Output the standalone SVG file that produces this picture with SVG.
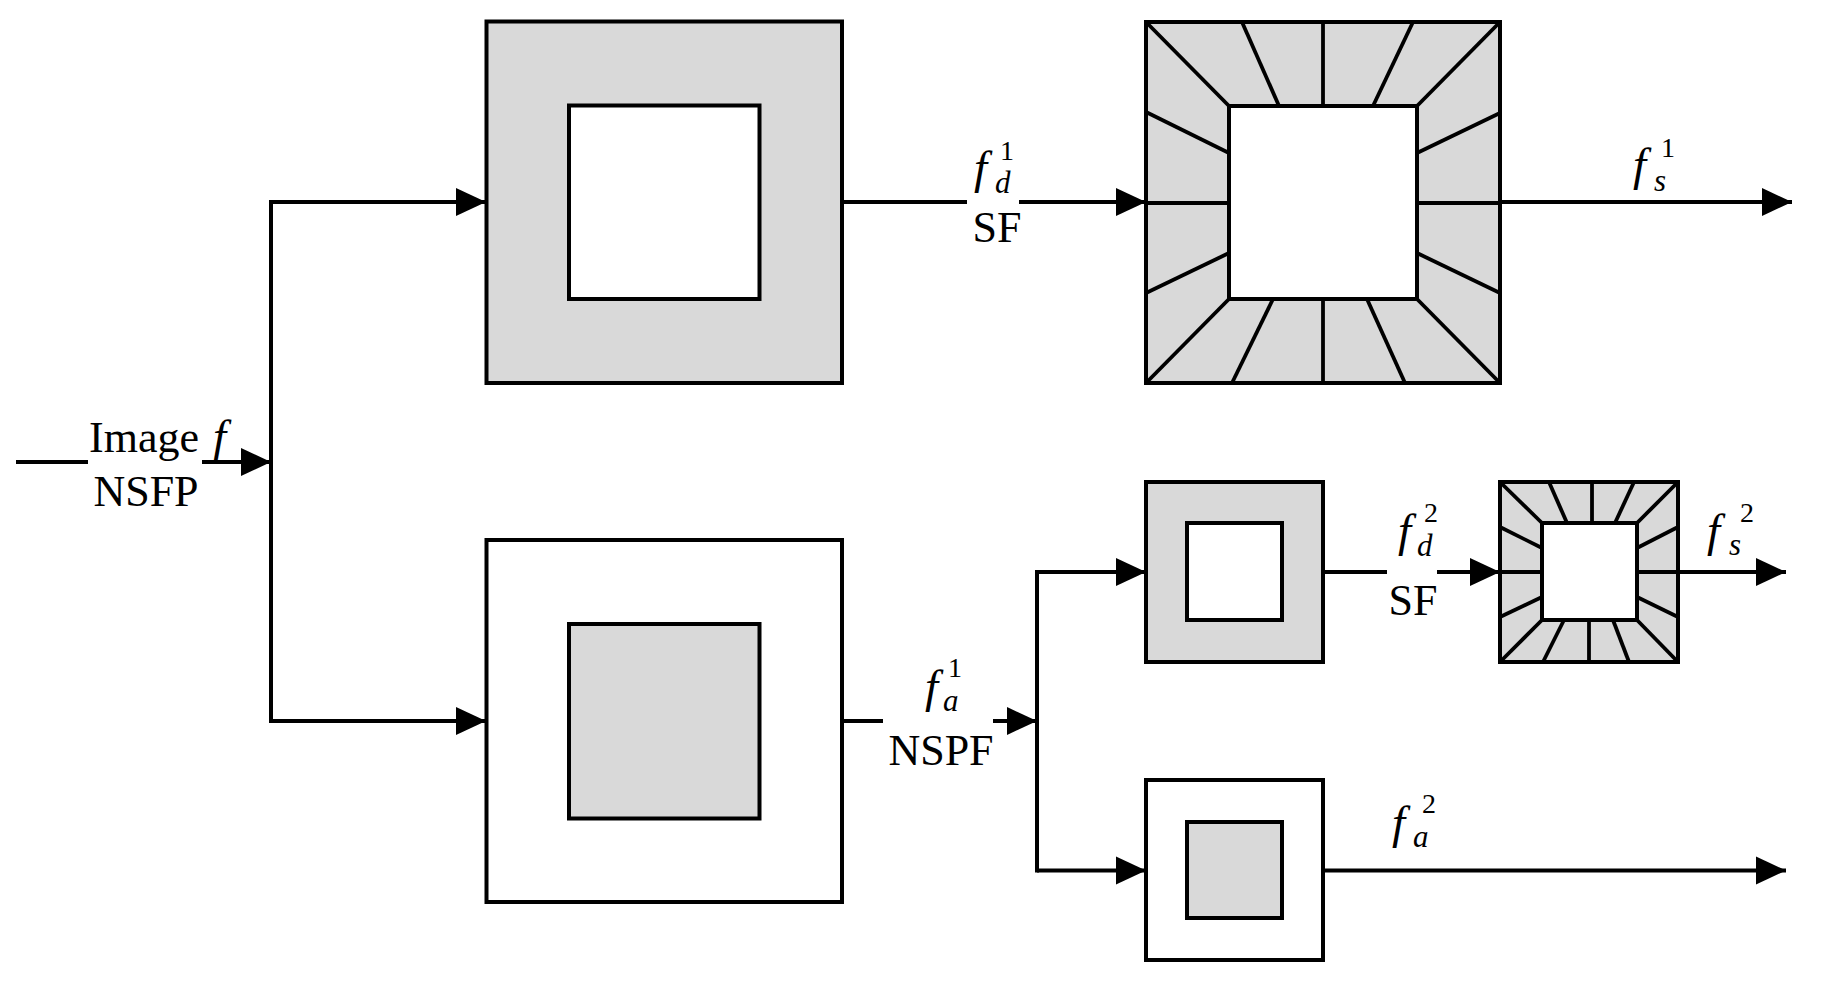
<svg xmlns="http://www.w3.org/2000/svg" width="1833" height="991" viewBox="0 0 1833 991">
  <style>
    .box { stroke: #000; stroke-width: 4; }
    .grey { fill: #d9d9d9; }
    .white { fill: #fff; }
    .ray { stroke: #000; stroke-width: 3.8; fill: none; }
    .wire { stroke: #000; stroke-width: 4; fill: none; }
    .arrow { marker-end: url(#ah); }
    .lbl { font-family: "Liberation Serif", "Times New Roman", serif; font-size: 44px; fill: #000; }
    .mf { font-family: "Liberation Serif", "Times New Roman", serif; font-style: italic; font-size: 47px; fill: #000; }
    .sub { font-family: "Liberation Serif", "Times New Roman", serif; font-style: italic; font-size: 31px; fill: #000; }
    .sup { font-family: "Liberation Serif", "Times New Roman", serif; font-size: 28px; fill: #000; }
  </style>
  <defs>
    <marker id="ah" markerUnits="userSpaceOnUse" markerWidth="31" markerHeight="30" refX="30" refY="15" orient="auto" viewBox="0 0 31 30">
      <path d="M0,1 L30,15 L0,29 z" fill="#000"/>
    </marker>
  </defs>
  <rect width="1833" height="991" fill="#fff"/>

  <g id="connectors">
    <line class="wire" x1="16" y1="462" x2="88" y2="462"/>
    <line class="wire arrow" x1="202" y1="462" x2="271" y2="462"/>
    <line class="wire" x1="271" y1="200" x2="271" y2="723"/>
    <line class="wire arrow" x1="271" y1="202" x2="486" y2="202"/>
    <line class="wire arrow" x1="271" y1="721" x2="486" y2="721"/>
    <line class="wire" x1="842" y1="202" x2="967" y2="202"/>
    <line class="wire arrow" x1="1019" y1="202" x2="1146" y2="202"/>
    <line class="wire arrow" x1="1500" y1="202" x2="1792" y2="202"/>
    <line class="wire" x1="842" y1="721" x2="883" y2="721"/>
    <line class="wire arrow" x1="993" y1="721" x2="1037" y2="721"/>
    <line class="wire" x1="1037" y1="570" x2="1037" y2="872.5"/>
    <line class="wire arrow" x1="1037" y1="572" x2="1146" y2="572"/>
    <line class="wire arrow" x1="1037" y1="870.5" x2="1146" y2="870.5"/>
    <line class="wire" x1="1323" y1="572" x2="1387" y2="572"/>
    <line class="wire arrow" x1="1437" y1="572" x2="1500" y2="572"/>
    <line class="wire arrow" x1="1678" y1="572" x2="1786" y2="572"/>
    <line class="wire arrow" x1="1323" y1="870.5" x2="1786" y2="870.5"/>
  </g>

  <g id="nsfp-highpass">
    <rect class="box grey" x="486.5" y="21.5" width="355.5" height="361.5"/>
    <rect class="box white" x="569" y="105.5" width="190.5" height="193.5"/>
  </g>

  <g id="nsfp-lowpass">
    <rect class="box white" x="486.5" y="540" width="355.5" height="362"/>
    <rect class="box grey" x="569" y="624" width="190.5" height="194.5"/>
  </g>

  <g id="sf-level1">
    <rect class="box grey" x="1146" y="22" width="354" height="361"/>
    <rect class="box white" x="1229" y="106" width="188" height="193"/>
    <line class="ray" x1="1146" y1="22" x2="1229" y2="106"/>
    <line class="ray" x1="1500" y1="22" x2="1417" y2="106"/>
    <line class="ray" x1="1146" y1="383" x2="1229" y2="299"/>
    <line class="ray" x1="1500" y1="383" x2="1417" y2="299"/>
    <line class="ray" x1="1242" y1="22" x2="1279" y2="106"/>
    <line class="ray" x1="1323" y1="22" x2="1323" y2="106"/>
    <line class="ray" x1="1413" y1="22" x2="1373" y2="106"/>
    <line class="ray" x1="1146" y1="112" x2="1229" y2="153"/>
    <line class="ray" x1="1146" y1="203" x2="1229" y2="203"/>
    <line class="ray" x1="1146" y1="293" x2="1229" y2="253"/>
    <line class="ray" x1="1500" y1="113" x2="1417" y2="153"/>
    <line class="ray" x1="1500" y1="203" x2="1417" y2="203"/>
    <line class="ray" x1="1500" y1="293" x2="1417" y2="253"/>
    <line class="ray" x1="1273" y1="299" x2="1232" y2="383"/>
    <line class="ray" x1="1323" y1="299" x2="1323" y2="383"/>
    <line class="ray" x1="1367" y1="299" x2="1405" y2="383"/>
  </g>

  <g id="nsfp-level2-highpass">
    <rect class="box grey" x="1146" y="482" width="177" height="180"/>
    <rect class="box white" x="1187" y="523" width="95" height="97"/>
  </g>

  <g id="nsfp-level2-lowpass">
    <rect class="box white" x="1146" y="780" width="177" height="180"/>
    <rect class="box grey" x="1187" y="822" width="95" height="96"/>
  </g>

  <g id="sf-level2">
    <rect class="box grey" x="1500" y="482" width="178" height="180"/>
    <rect class="box white" x="1542" y="523" width="95" height="97"/>
    <line class="ray" x1="1500" y1="482" x2="1542" y2="523"/>
    <line class="ray" x1="1678" y1="482" x2="1637" y2="523"/>
    <line class="ray" x1="1500" y1="662" x2="1542" y2="620"/>
    <line class="ray" x1="1678" y1="662" x2="1637" y2="620"/>
    <line class="ray" x1="1549" y1="482" x2="1567" y2="523"/>
    <line class="ray" x1="1592" y1="482" x2="1592" y2="523"/>
    <line class="ray" x1="1634" y1="482" x2="1615" y2="523"/>
    <line class="ray" x1="1500" y1="527" x2="1542" y2="548"/>
    <line class="ray" x1="1500" y1="572" x2="1542" y2="572"/>
    <line class="ray" x1="1500" y1="617" x2="1542" y2="597"/>
    <line class="ray" x1="1678" y1="527" x2="1637" y2="548"/>
    <line class="ray" x1="1678" y1="572" x2="1637" y2="572"/>
    <line class="ray" x1="1678" y1="617" x2="1637" y2="597"/>
    <line class="ray" x1="1564" y1="620" x2="1543" y2="662"/>
    <line class="ray" x1="1589" y1="620" x2="1589" y2="662"/>
    <line class="ray" x1="1613" y1="620" x2="1629" y2="662"/>
  </g>

  <g id="labels">
    <text class="lbl" x="89" y="452" font-size="46">Image</text>
    <text class="mf" x="213" y="452">f</text>
    <text class="lbl" x="146" y="506" text-anchor="middle">NSFP</text>

    <text class="mf" x="974" y="183">f</text>
    <text class="sub" x="995" y="193">d</text>
    <text class="sup" x="1000" y="160">1</text>
    <text class="lbl" x="997" y="242" text-anchor="middle">SF</text>

    <text class="mf" x="1633" y="180">f</text>
    <text class="sub" x="1654" y="191">s</text>
    <text class="sup" x="1661" y="157">1</text>

    <text class="mf" x="925" y="702">f</text>
    <text class="sub" x="943" y="711">a</text>
    <text class="sup" x="948" y="677">1</text>
    <text class="lbl" x="941" y="765" text-anchor="middle">NSPF</text>

    <text class="mf" x="1398" y="546">f</text>
    <text class="sub" x="1417" y="556">d</text>
    <text class="sup" x="1424" y="522">2</text>
    <text class="lbl" x="1413" y="615" text-anchor="middle">SF</text>

    <text class="mf" x="1707" y="546">f</text>
    <text class="sub" x="1729" y="555">s</text>
    <text class="sup" x="1740" y="522">2</text>

    <text class="mf" x="1392" y="838">f</text>
    <text class="sub" x="1413" y="847">a</text>
    <text class="sup" x="1422" y="813">2</text>
  </g>
</svg>
